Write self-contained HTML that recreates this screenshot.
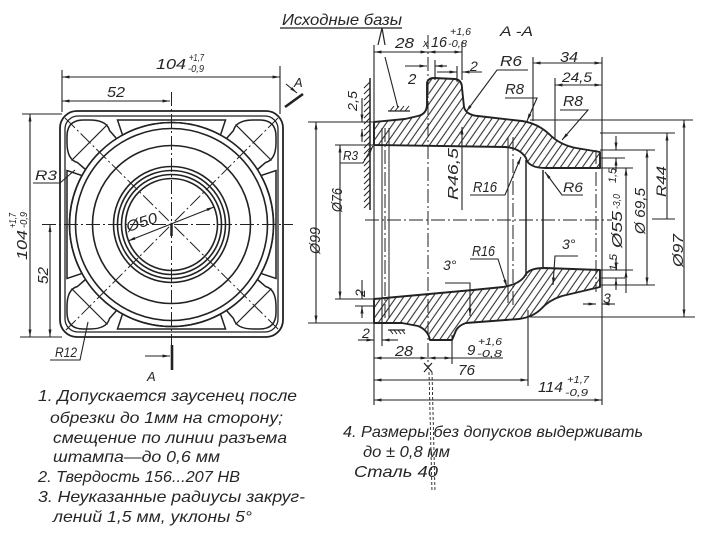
<!DOCTYPE html>
<html><head><meta charset="utf-8"><style>
html,body{margin:0;padding:0;background:#fff;}
svg{display:block;}
text{font-family:"Liberation Sans",sans-serif;font-style:italic;fill:#262626;}
</style></head><body>
<svg width="715" height="533" viewBox="0 0 715 533" xmlns="http://www.w3.org/2000/svg">
<defs>
<marker id="a" viewBox="0 0 10 4" refX="10" refY="2" markerWidth="8" markerHeight="3" orient="auto-start-reverse" markerUnits="userSpaceOnUse"><path d="M0,0L10,2L0,4z" fill="#222"/></marker>
<pattern id="h" width="6" height="6" patternUnits="userSpaceOnUse" patternTransform="rotate(35)"><line x1="3" y1="0" x2="3" y2="6" stroke="#333" stroke-width="1.1"/></pattern>
</defs>
<rect width="715" height="533" fill="#fff"/>

<!-- ============ LEFT VIEW ============ -->
<g fill="none" stroke="#222">
<rect x="60" y="111" width="223" height="226" rx="17" stroke-width="1.8"/>
<rect x="65" y="116" width="213" height="216" rx="13" stroke-width="1.3"/>
<g stroke-width="1.6">
<circle cx="171.5" cy="224.5" r="102"/>
<circle cx="171.5" cy="224.5" r="96"/>
<circle cx="171.5" cy="224.5" r="79"/>
<circle cx="171.5" cy="224.5" r="58"/>
<circle cx="171.5" cy="224.5" r="54"/>
<circle cx="171.5" cy="224.5" r="50"/>
<circle cx="171.5" cy="224.5" r="46"/>
</g>
<g id="cn" transform="translate(171.5 224.5)" stroke-width="1.5">
<path d="M-55,-86 L-62,-94 C-64,-102 -72,-104.5 -82,-104.5 L-88,-104.5 C-99,-104.5 -104.5,-99 -104.5,-88 L-104.5,-82 C-104.5,-72 -102,-64 -94,-62 L-86,-55"/>
<path d="M-54,-104.5 L54,-104.5 L49,-89.5 A102 102 0 0 0 -49,-89.5 Z"/>
<line x1="-100" y1="-64" x2="-64" y2="-100" stroke-width="1.2"/>
</g>
<use href="#cn" transform="rotate(90 171.5 224.5)"/>
<use href="#cn" transform="rotate(180 171.5 224.5)"/>
<use href="#cn" transform="rotate(270 171.5 224.5)"/>
<!-- center lines -->
<g stroke-width="1" stroke-dasharray="14 3 2 3">
<line x1="42" y1="224.5" x2="293" y2="224.5"/>
<line x1="171.5" y1="92" x2="171.5" y2="345"/>
<line x1="65" y1="118" x2="280" y2="331"/>
<line x1="278" y1="118" x2="65" y2="331"/>
</g>
<line x1="171.5" y1="224" x2="171.5" y2="236" stroke-width="2.5"/>
<!-- dims -->
<g stroke-width="1.1">
<line x1="62" y1="70" x2="62" y2="112"/>
<line x1="280" y1="66" x2="280" y2="114"/>
<line x1="62" y1="77" x2="280" y2="77" marker-start="url(#a)" marker-end="url(#a)"/>
<line x1="62" y1="101" x2="170" y2="101" marker-start="url(#a)" marker-end="url(#a)"/>
<line x1="22" y1="114" x2="62" y2="114"/>
<line x1="20" y1="337" x2="62" y2="337"/>
<line x1="30" y1="114" x2="30" y2="337" marker-start="url(#a)" marker-end="url(#a)"/>
<line x1="50" y1="224.5" x2="50" y2="337" marker-start="url(#a)" marker-end="url(#a)"/>
<line x1="128" y1="241" x2="214" y2="207" marker-start="url(#a)" marker-end="url(#a)"/>
<polyline points="33,183 60,183 75,170"/>
<polyline points="50,360 80,360 88,322"/>
<line x1="145" y1="356" x2="170" y2="356" marker-end="url(#a)"/>
<line x1="286" y1="84" x2="297" y2="93" marker-end="url(#a)"/>
</g>
<line x1="172" y1="345" x2="172" y2="370" stroke-width="2.6"/>
<line x1="285" y1="107" x2="303" y2="94" stroke-width="2.6"/>
</g>
<text x="156" y="69" font-size="15" textLength="30" lengthAdjust="spacingAndGlyphs">104</text>
<text x="189" y="61" font-size="10" textLength="15" lengthAdjust="spacingAndGlyphs">+1,7</text>
<text x="188" y="72" font-size="10" textLength="16" lengthAdjust="spacingAndGlyphs">-0,9</text>
<text x="107" y="97" font-size="15" textLength="18" lengthAdjust="spacingAndGlyphs">52</text>
<g transform="translate(27,260) rotate(-90)">
<text x="0" y="0" font-size="15" textLength="30" lengthAdjust="spacingAndGlyphs">104</text>
<text x="32" y="-11" font-size="10" textLength="15" lengthAdjust="spacingAndGlyphs">+1,7</text>
<text x="32" y="0" font-size="10" textLength="16" lengthAdjust="spacingAndGlyphs">-0,9</text>
</g>
<text transform="translate(48,284) rotate(-90)" font-size="15" textLength="17" lengthAdjust="spacingAndGlyphs">52</text>
<text x="35" y="180" font-size="14" textLength="22" lengthAdjust="spacingAndGlyphs">R3</text>
<text x="55" y="357" font-size="14" textLength="22" lengthAdjust="spacingAndGlyphs">R12</text>
<text x="128" y="232" font-size="15" textLength="32" lengthAdjust="spacingAndGlyphs" transform="rotate(-18 128 232)">Ø50</text>
<text x="294" y="87" font-size="13">A</text>
<text x="147" y="381" font-size="13">A</text>

<!-- ============ SECTION A-A ============ -->
<text x="282" y="25" font-size="16" textLength="120" lengthAdjust="spacingAndGlyphs">Исходные базы</text>
<line x1="280" y1="28" x2="402" y2="28" stroke="#222" stroke-width="1.3"/>
<text x="500" y="36" font-size="14" textLength="33" lengthAdjust="spacingAndGlyphs">A -A</text>

<g fill="url(#h)" stroke="#222" stroke-width="1.9" stroke-linejoin="round">
<path d="M374,122 L405,119 L418,116 Q427,114 427,104 L427,83 Q428,78 434,78 L455,79 Q462,80 462,88 L464,107 Q466,115 478,116 L522,121 Q537,123 549,134 Q560,145 576,148 L600,152 L600,168 L546,168 Q528,168 526,158 Q520,148 505,147 L374,145 Z"/>
<path d="M374,299 L473,290 L503,287 Q521,284 526,274 Q530,268 545,268 L600,270 L600,287 L562,296 Q549,300 541,309 Q533,317 519,319 L466,323 Q457,326 455,333 L452,340 L430,340 Q428,330 418,326 L402,323 L374,323 Z"/>
</g>

<g fill="none" stroke="#222">
<!-- interior lines -->
<g stroke-width="1.5">
<line x1="526" y1="160" x2="526" y2="276"/>
<line x1="543" y1="170" x2="543" y2="268"/>
</g>
<g stroke-width="1">
<line x1="382" y1="128" x2="382" y2="318"/>
<line x1="389" y1="128" x2="389" y2="318"/>
<line x1="508" y1="137" x2="508" y2="303"/>
</g>
<g stroke-width="1" stroke-dasharray="14 3 2 3">
<line x1="385" y1="128" x2="385" y2="318"/>
<line x1="513" y1="137" x2="513" y2="305"/>
<line x1="596" y1="150" x2="596" y2="292"/>
<line x1="365" y1="220" x2="612" y2="220"/>
<line x1="428" y1="35" x2="428" y2="366"/>
</g>
<g stroke-width="0.9" stroke-dasharray="3 2">
<line x1="429" y1="372" x2="432" y2="492"/>
<line x1="432" y1="372" x2="435" y2="492"/>
</g>
<path d="M424,363 L432,372 M432,363 L424,372" stroke-width="1.2"/>

<!-- base symbols -->
<line x1="370" y1="78" x2="370" y2="210" stroke-width="1.5"/>
<path d="M370,82l-6,6M370,88l-6,6M370,94l-6,6M370,100l-6,6M370,106l-6,6M370,112l-6,6M370,118l-6,6M370,124l-6,6M370,130l-6,6M370,136l-6,6M370,142l-6,6M370,148l-6,6M370,154l-6,6M370,160l-6,6M370,166l-6,6M370,172l-6,6M370,178l-6,6M370,184l-6,6M370,190l-6,6M370,196l-6,6M370,202l-6,6" stroke-width="1"/>
<line x1="388" y1="111" x2="410" y2="111" stroke-width="1.3"/>
<path d="M390,111l4,-5M395,111l4,-5M400,111l4,-5M405,111l4,-5" stroke-width="1"/>
<line x1="388" y1="330" x2="405" y2="330" stroke-width="1.3"/>
<path d="M390,330l3,4M394,330l3,4M398,330l3,4M402,330l3,4" stroke-width="1"/>
<polyline points="378,45 382,28 385,45" stroke-width="1.2"/>
<line x1="385" y1="57" x2="398" y2="108" stroke-width="1.1"/>

<g stroke-width="1.1">
<!-- long extension lines -->
<line x1="374" y1="45" x2="374" y2="405"/>
<line x1="602" y1="57" x2="602" y2="405"/>
<line x1="462" y1="42" x2="462" y2="80"/>
<line x1="435" y1="60" x2="435" y2="80"/>
<line x1="457" y1="66" x2="457" y2="82"/>
<line x1="533" y1="57" x2="533" y2="121"/>
<line x1="555" y1="78" x2="555" y2="138"/>
<line x1="528" y1="310" x2="528" y2="386"/>
<line x1="452" y1="335" x2="452" y2="364"/>
<line x1="382" y1="300" x2="382" y2="346"/>
<!-- top dims -->
<line x1="374" y1="52" x2="428" y2="52" marker-start="url(#a)" marker-end="url(#a)"/>
<line x1="428" y1="52" x2="462" y2="52" marker-start="url(#a)" marker-end="url(#a)"/>
<line x1="405" y1="66" x2="427" y2="66" marker-end="url(#a)"/>
<line x1="447" y1="66" x2="435" y2="66" marker-end="url(#a)"/>
<line x1="437" y1="72" x2="457" y2="72" marker-end="url(#a)"/>
<line x1="482" y1="72" x2="462" y2="72" marker-end="url(#a)"/>
<line x1="533" y1="63" x2="602" y2="63" marker-start="url(#a)" marker-end="url(#a)"/>
<line x1="555" y1="85" x2="602" y2="85" marker-start="url(#a)" marker-end="url(#a)"/>
<!-- left dims -->
<line x1="308" y1="122" x2="374" y2="122"/>
<line x1="335" y1="145" x2="374" y2="145"/>
<line x1="335" y1="299" x2="374" y2="299"/>
<line x1="355" y1="306" x2="374" y2="306"/>
<line x1="308" y1="323" x2="374" y2="323"/>
<line x1="316" y1="122" x2="316" y2="323" marker-start="url(#a)" marker-end="url(#a)"/>
<line x1="340" y1="145" x2="340" y2="299" marker-start="url(#a)" marker-end="url(#a)"/>
<line x1="362" y1="98" x2="362" y2="122" marker-end="url(#a)"/>
<line x1="362" y1="142" x2="362" y2="129" marker-end="url(#a)"/>
<line x1="362" y1="280" x2="362" y2="299" marker-end="url(#a)"/>
<line x1="362" y1="318" x2="362" y2="306" marker-end="url(#a)"/>
<!-- bottom dims -->
<line x1="358" y1="340" x2="374" y2="340" marker-end="url(#a)"/>
<line x1="398" y1="340" x2="382" y2="340" marker-end="url(#a)"/>
<line x1="374" y1="358" x2="428" y2="358" marker-start="url(#a)" marker-end="url(#a)"/>
<line x1="428" y1="358" x2="452" y2="358" marker-start="url(#a)" marker-end="url(#a)"/>
<line x1="452" y1="358" x2="503" y2="358"/>
<line x1="374" y1="380" x2="528" y2="380" marker-start="url(#a)" marker-end="url(#a)"/>
<line x1="374" y1="400" x2="602" y2="400" marker-start="url(#a)" marker-end="url(#a)"/>
<!-- right dims -->
<line x1="530" y1="120" x2="693" y2="120"/>
<line x1="600" y1="133" x2="675" y2="133"/>
<line x1="600" y1="150" x2="655" y2="150"/>
<line x1="600" y1="158" x2="625" y2="158"/>
<line x1="600" y1="168" x2="633" y2="168"/>
<line x1="600" y1="270" x2="633" y2="270"/>
<line x1="600" y1="278" x2="625" y2="278"/>
<line x1="600" y1="285" x2="655" y2="285"/>
<line x1="530" y1="317" x2="695" y2="317"/>
<line x1="652" y1="219" x2="675" y2="219"/>
<line x1="684" y1="120" x2="684" y2="317" marker-start="url(#a)" marker-end="url(#a)"/>
<line x1="667" y1="219" x2="667" y2="133" marker-end="url(#a)"/>
<line x1="647" y1="150" x2="647" y2="285" marker-start="url(#a)" marker-end="url(#a)"/>
<line x1="626" y1="168" x2="626" y2="293" marker-start="url(#a)"/>
<line x1="626" y1="285" x2="626" y2="270" marker-end="url(#a)"/>
<line x1="616" y1="136" x2="616" y2="150" marker-end="url(#a)"/>
<line x1="616" y1="172" x2="616" y2="158" marker-end="url(#a)"/>
<line x1="616" y1="258" x2="616" y2="270" marker-end="url(#a)"/>
<line x1="616" y1="290" x2="616" y2="278" marker-end="url(#a)"/>
<line x1="583" y1="304" x2="596" y2="304" marker-end="url(#a)"/>
<line x1="615" y1="304" x2="602" y2="304" marker-end="url(#a)"/>
<!-- leaders -->
<polyline points="528,70 497,70 466,112" marker-end="url(#a)"/>
<polyline points="505,98 537,98 527,121" marker-end="url(#a)"/>
<polyline points="560,110 588,110 562,140" marker-end="url(#a)"/>
<polyline points="340,163 363,163 373,146" marker-end="url(#a)"/>
<line x1="462" y1="210" x2="462" y2="127" marker-end="url(#a)"/>
<polyline points="470,195 505,195 521,157" marker-end="url(#a)"/>
<polyline points="583,195 562,195 545,172" marker-end="url(#a)"/>
<polyline points="578,256 555,256 553,285" marker-end="url(#a)"/>
<polyline points="470,259 498,259 507,287" marker-end="url(#a)"/>
<polyline points="445,283 470,283 470,316" marker-end="url(#a)"/>
</g>
</g>

<!-- section labels -->
<text x="395" y="48" font-size="15" textLength="19" lengthAdjust="spacingAndGlyphs">28</text>
<text x="423" y="47" font-size="11">x</text>
<text x="431" y="47" font-size="15" textLength="16" lengthAdjust="spacingAndGlyphs">16</text>
<text x="450" y="35" font-size="10" textLength="21" lengthAdjust="spacingAndGlyphs">+1,6</text>
<text x="448" y="47" font-size="10" textLength="19" lengthAdjust="spacingAndGlyphs">-0,8</text>
<text x="408" y="84" font-size="15">2</text>
<text x="470" y="71" font-size="14">2</text>
<text x="500" y="66" font-size="15" textLength="22" lengthAdjust="spacingAndGlyphs">R6</text>
<text x="505" y="94" font-size="15" textLength="19" lengthAdjust="spacingAndGlyphs">R8</text>
<text x="560" y="62" font-size="15" textLength="18" lengthAdjust="spacingAndGlyphs">34</text>
<text x="562" y="82" font-size="14" textLength="30" lengthAdjust="spacingAndGlyphs">24,5</text>
<text x="563" y="106" font-size="15" textLength="20" lengthAdjust="spacingAndGlyphs">R8</text>
<text x="343" y="160" font-size="13" textLength="15" lengthAdjust="spacingAndGlyphs">R3</text>
<text x="473" y="192" font-size="15" textLength="24" lengthAdjust="spacingAndGlyphs">R16</text>
<text x="563" y="192" font-size="14" textLength="20" lengthAdjust="spacingAndGlyphs">R6</text>
<text x="562" y="249" font-size="14">3°</text>
<text x="472" y="256" font-size="15" textLength="23" lengthAdjust="spacingAndGlyphs">R16</text>
<text x="443" y="270" font-size="14">3°</text>
<text x="603" y="303" font-size="14">3</text>
<text x="362" y="338" font-size="14">2</text>
<text x="395" y="356" font-size="15" textLength="18" lengthAdjust="spacingAndGlyphs">28</text>
<text x="467" y="355" font-size="15">9</text>
<text x="478" y="345" font-size="10" textLength="24" lengthAdjust="spacingAndGlyphs">+1,6</text>
<text x="477" y="357" font-size="10" textLength="25" lengthAdjust="spacingAndGlyphs">-0,8</text>
<text x="458" y="375" font-size="15" textLength="17" lengthAdjust="spacingAndGlyphs">76</text>
<text x="538" y="392" font-size="15" textLength="25" lengthAdjust="spacingAndGlyphs">114</text>
<text x="567" y="383" font-size="10" textLength="22" lengthAdjust="spacingAndGlyphs">+1,7</text>
<text x="565" y="396" font-size="10" textLength="23" lengthAdjust="spacingAndGlyphs">-0,9</text>

<text transform="translate(320,254) rotate(-90)" font-size="15" textLength="27" lengthAdjust="spacingAndGlyphs">Ø99</text>
<text transform="translate(342,212) rotate(-90)" font-size="15" textLength="24" lengthAdjust="spacingAndGlyphs">Ø76</text>
<text transform="translate(357,111) rotate(-90)" font-size="13" textLength="20" lengthAdjust="spacingAndGlyphs">2,5</text>
<text transform="translate(458,200) rotate(-90)" font-size="15" textLength="52" lengthAdjust="spacingAndGlyphs">R46,5</text>
<text transform="translate(365,297) rotate(-90)" font-size="14">2</text>
<text transform="translate(616,183) rotate(-90)" font-size="11" textLength="15" lengthAdjust="spacingAndGlyphs">1,5</text>
<g transform="translate(622,248) rotate(-90)">
<text x="0" y="0" font-size="15" textLength="37" lengthAdjust="spacingAndGlyphs">Ø55</text>
<text x="39" y="-2" font-size="10" textLength="15" lengthAdjust="spacingAndGlyphs">-3,0</text>
</g>
<text transform="translate(617,271) rotate(-90)" font-size="11" textLength="17" lengthAdjust="spacingAndGlyphs">1,5</text>
<text transform="translate(645,234) rotate(-90)" font-size="15" textLength="46" lengthAdjust="spacingAndGlyphs">Ø 69,5</text>
<text transform="translate(666,197) rotate(-90)" font-size="14" textLength="31" lengthAdjust="spacingAndGlyphs">R44</text>
<text transform="translate(683,267) rotate(-90)" font-size="15" textLength="33" lengthAdjust="spacingAndGlyphs">Ø97</text>

<!-- notes -->
<g font-size="16">
<text x="38" y="401" textLength="259" lengthAdjust="spacingAndGlyphs">1. Допускается заусенец после</text>
<text x="50" y="423" textLength="233" lengthAdjust="spacingAndGlyphs">обрезки до 1мм на сторону;</text>
<text x="53" y="443" textLength="234" lengthAdjust="spacingAndGlyphs">смещение по линии разъема</text>
<text x="53" y="462" textLength="167" lengthAdjust="spacingAndGlyphs">штампа—до 0,6 мм</text>
<text x="38" y="482" textLength="202" lengthAdjust="spacingAndGlyphs">2. Твердость 156...207 НВ</text>
<text x="38" y="502" textLength="267" lengthAdjust="spacingAndGlyphs">3. Неуказанные радиусы закруг-</text>
<text x="53" y="522" textLength="199" lengthAdjust="spacingAndGlyphs">лений 1,5 мм, уклоны 5°</text>
<text x="343" y="437" textLength="300" lengthAdjust="spacingAndGlyphs">4. Размеры без допусков выдерживать</text>
<text x="363" y="457" textLength="87" lengthAdjust="spacingAndGlyphs">до ± 0,8 мм</text>
<text x="354" y="477" textLength="84" lengthAdjust="spacingAndGlyphs">Сталь 40</text>
</g>
</svg>
</body></html>
